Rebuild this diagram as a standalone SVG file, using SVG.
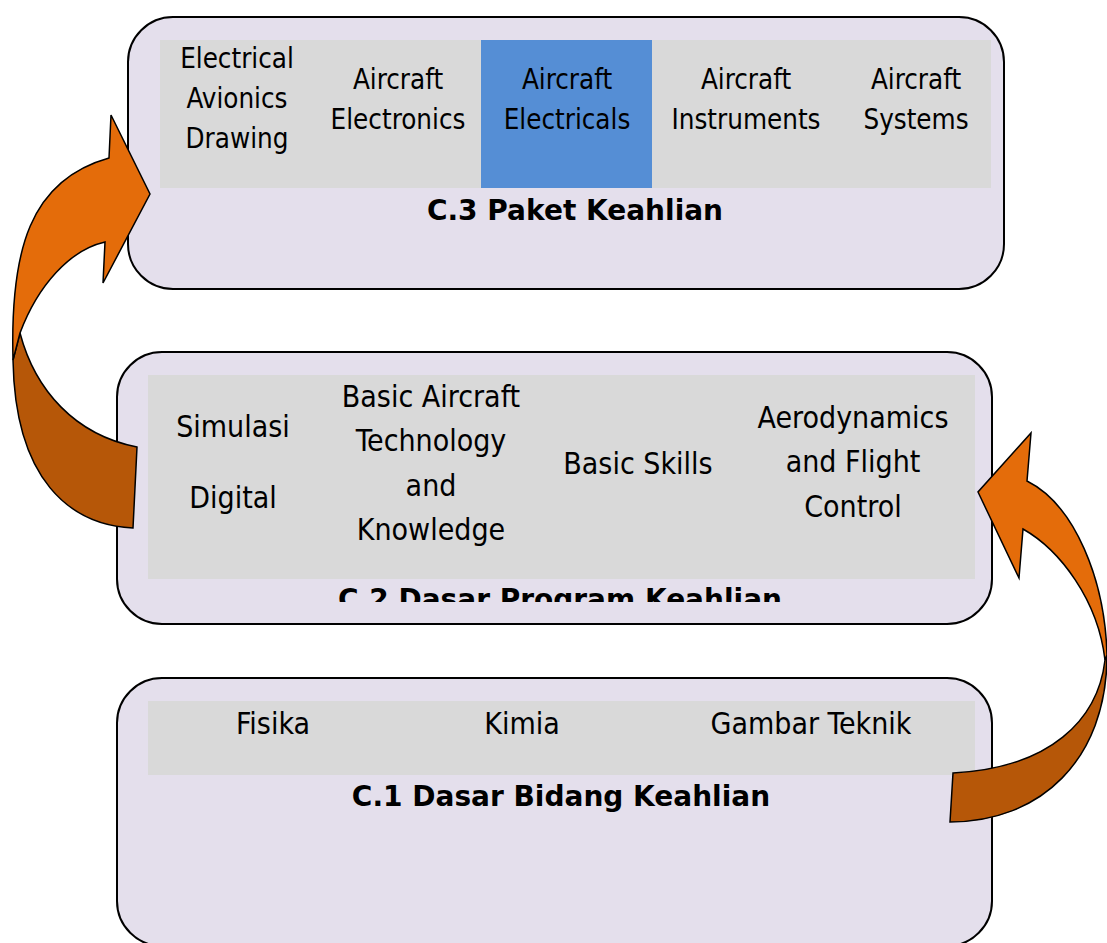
<svg xmlns="http://www.w3.org/2000/svg" width="1107" height="943" viewBox="0 0 1107 943">
<defs>
<style>
.box{fill:#e4dfec;stroke:#000;stroke-width:2}
.band{fill:#d9d9d9}
.t{font-family:"DejaVu Sans Condensed","DejaVu Sans",sans-serif;font-stretch:condensed;fill:#000;text-anchor:middle}
.s3{font-size:27.5px}
.s2{font-size:30px}
.b{font-family:"DejaVu Sans",sans-serif;font-weight:bold;font-size:28px;fill:#000;text-anchor:middle}
.front{fill:#e46c0a;stroke:#000;stroke-width:1.5;stroke-linejoin:miter}
.back{fill:#b65708;stroke:#000;stroke-width:1.5}
</style>
<clipPath id="c2clip"><rect x="117" y="352" width="875" height="250"/></clipPath>
</defs>
<rect width="1107" height="943" fill="#fff"/>
<g id="c3">
<rect class="box" x="128" y="17" width="876" height="272" rx="45" ry="45"/>
<rect class="band" x="160" y="40" width="831" height="148"/>
<rect x="481" y="40" width="171" height="148" fill="#558ed5"/>
<text class="t s3" x="237" y="68">Electrical</text>
<text class="t s3" x="237" y="108">Avionics</text>
<text class="t s3" x="237" y="148">Drawing</text>
<text class="t s3" x="398" y="89">Aircraft</text>
<text class="t s3" x="398" y="129">Electronics</text>
<text class="t s3" x="567" y="89">Aircraft</text>
<text class="t s3" x="567" y="129">Electricals</text>
<text class="t s3" x="746" y="89">Aircraft</text>
<text class="t s3" x="746" y="129">Instruments</text>
<text class="t s3" x="916" y="89">Aircraft</text>
<text class="t s3" x="916" y="129">Systems</text>
<text class="b" x="575" y="220">C.3 Paket Keahlian</text>
</g>
<g id="c2">
<rect class="box" x="117" y="352" width="875" height="272" rx="45" ry="45"/>
<rect class="band" x="148" y="375" width="827" height="204"/>
<text class="t s2" x="233" y="437">Simulasi</text>
<text class="t s2" x="233" y="508">Digital</text>
<text class="t s2" x="431" y="407">Basic Aircraft</text>
<text class="t s2" x="431" y="451">Technology</text>
<text class="t s2" x="431" y="496">and</text>
<text class="t s2" x="431" y="540">Knowledge</text>
<text class="t s2" x="638" y="474">Basic Skills</text>
<text class="t s2" x="853" y="428">Aerodynamics</text>
<text class="t s2" x="853" y="472">and Flight</text>
<text class="t s2" x="853" y="517">Control</text>
<text class="b" x="560" y="609" clip-path="url(#c2clip)">C.2 Dasar Program Keahlian</text>
</g>
<g id="c1">
<rect class="box" x="117" y="678" width="875" height="268" rx="45" ry="45"/>
<rect class="band" x="148" y="701" width="827" height="74"/>
<text class="t s2" x="273" y="734">Fisika</text>
<text class="t s2" x="522" y="734">Kimia</text>
<text class="t s2" x="811" y="734">Gambar Teknik</text>
<text class="b" x="561" y="806">C.1 Dasar Bidang Keahlian</text>
</g>
<g id="connectors">
<g id="arrow-left">
<path class="back" d="M20,333 C35,390 75,435 137,447 L133,528 C70,525 15,480 13,360 Z"/>
<path class="front" d="M13,360 C10,250 30,180 109,158 L111,115 L150,194 L103,283 L105,242 C70,250 38,285 20,333 Z"/>
</g>
<g id="arrow-right">
<path class="back" d="M1105,660 C1098,720 1050,768 953,773 L950,822 C1040,822 1107,760 1107,655 Z"/>
<path class="front" d="M1107,655 C1105,580 1075,505 1027,481 L1031,433 L978,492 L1019,578 L1023,529 C1060,550 1098,600 1105,660 Z"/>
</g>
</g>
</svg>
